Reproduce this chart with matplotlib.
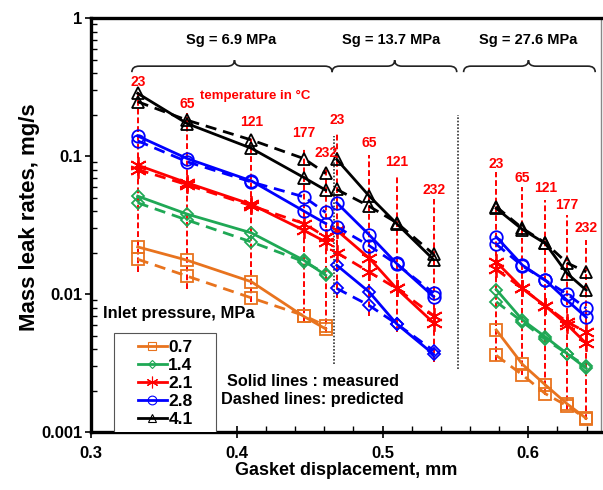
import matplotlib
matplotlib.use("Agg")
import matplotlib.pyplot as plt
from matplotlib.lines import Line2D
from matplotlib.path import Path
from matplotlib.patches import PathPatch, Rectangle
from matplotlib.transforms import blended_transform_factory
from matplotlib.ticker import MultipleLocator, LogLocator, NullFormatter, FixedLocator

plt.rcParams['font.family'] = ['Liberation Sans', 'DejaVu Sans']
plt.rcParams['font.weight'] = 'bold'

# gasket displacement (mm) for each seating stress group
g1_x = [0.332, 0.366, 0.410, 0.446, 0.461]   # Sg = 6.9 MPa
g2_x = [0.4686, 0.4907, 0.5096, 0.535]       # Sg = 13.7 MPa
g3_x = [0.578, 0.596, 0.6117, 0.6267, 0.6397]  # Sg = 27.6 MPa

g1_temps = ["23", "65", "121", "177", "232"]
g2_temps = ["23", "65", "121", "232"]
g3_temps = ["23", "65", "121", "177", "232"]

pressures = ["0.7", "1.4", "2.1", "2.8", "4.1"]

# mass leak rates, mg/s  (meas = measured, pred = predicted)
g1_07_meas = [0.0220, 0.0176, 0.0123, 0.0069, 0.0056]
g1_07_pred = [0.0179, 0.0135, 0.0094, 0.0070, 0.0059]
g1_14_meas = [0.0513, 0.0380, 0.0278, 0.0176, 0.0137]
g1_14_pred = [0.0459, 0.0344, 0.0239, 0.0172, 0.0141]
g1_21_meas = [0.086, 0.064, 0.0447, 0.029, 0.0239]
g1_21_pred = [0.080, 0.062, 0.0437, 0.0325, 0.026]
g1_28_meas = [0.140, 0.096, 0.0662, 0.040, 0.0325]
g1_28_pred = [0.129, 0.091, 0.065, 0.0507, 0.0391]
g1_41_meas = [0.285, 0.172, 0.114, 0.070, 0.0567]
g1_41_pred = [0.248, 0.182, 0.131, 0.096, 0.075]

g2_14_meas = [0.0162, 0.0104, 0.0061, 0.00367]
g2_14_pred = [0.0110, 0.0083, 0.0061, 0.0039]
g2_21_meas = [0.029, 0.0183, 0.0110, 0.0062]
g2_21_pred = [0.020, 0.0145, 0.0110, 0.0070]
g2_28_meas = [0.0459, 0.027, 0.0167, 0.0096]
g2_28_pred = [0.0307, 0.0225, 0.0165, 0.0102]
g2_41_meas = [0.0946, 0.0516, 0.0325, 0.0178]
g2_41_pred = [0.0574, 0.0434, 0.0330, 0.0195]

g3_07_meas = [0.0055, 0.0031, 0.0022, 0.0016, 0.00126]
g3_07_pred = [0.0036, 0.0026, 0.0019, 0.00155, 0.00125]
g3_14_meas = [0.0108, 0.0065, 0.0049, 0.0037, 0.0029]
g3_14_pred = [0.0088, 0.0063, 0.0047, 0.0037, 0.0030]
g3_21_meas = [0.0171, 0.0110, 0.0082, 0.0060, 0.0044]
g3_21_pred = [0.0151, 0.0110, 0.0082, 0.0063, 0.0053]
g3_28_meas = [0.026, 0.0162, 0.0126, 0.0090, 0.0068]
g3_28_pred = [0.023, 0.0160, 0.0126, 0.0100, 0.0079]
g3_41_meas = [0.0418, 0.0294, 0.0233, 0.0141, 0.0107]
g3_41_pred = [0.0430, 0.0300, 0.0235, 0.0168, 0.0145]

# temperature marker lines: label height, line top, line bottom
g1_lab_y = [0.344, 0.238, 0.176, 0.146, 0.105]
g1_top = [0.291, 0.205, 0.138, 0.114, 0.0836]
g1_bot = [0.0144, 0.0109, 0.0088, 0.0063, 0.0052]
g2_lab_y = [0.182, 0.125, 0.091, 0.0567]
g2_top = [0.146, 0.1017, 0.0728, 0.0486]
g2_bot = [0.0094, 0.0070, 0.0053, 0.0032]
g3_lab_y = [0.0875, 0.069, 0.0586, 0.044, 0.030]
g3_top = [0.077, 0.060, 0.048, 0.0373, 0.0246]
g3_bot = [0.0033, 0.0026, 0.00185, 0.00144, 0.00122]

ORANGE = "#E8731E"
GREEN = "#1FA855"
RED = "#FF0000"
BLUE = "#0000FF"
BLACK = "#000000"

styles = {
    "0.7": dict(color=ORANGE, marker="s", ms=8),
    "1.4": dict(color=GREEN, marker="D", ms=6),
    "2.1": dict(color=RED, marker=(6, 2, 0), ms=12),
    "2.8": dict(color=BLUE, marker="o", ms=9),
    "4.1": dict(color=BLACK, marker="^", ms=9),
}

fig = plt.figure(figsize=(6.03, 4.9), dpi=100)
ax = fig.add_axes([0.151, 0.118, 0.846, 0.845])
ax.set_yscale("log")
ax.set_xlim(0.3, 0.65)
ax.set_ylim(0.001, 1)


def plot_pair(x, meas, pred, key, color=None):
    st = dict(styles[key])
    if color is not None:
        st["color"] = color
    c = st.pop("color")
    common = dict(color=c, mfc="none", mec=c, mew=1.3, zorder=3)
    ax.plot(x, meas, "-", lw=2.0, **st, **common)
    ax.plot(x, pred, "--", lw=2.0, dashes=(4, 2.5), **st, **common)


# temperature lines go underneath the data
for xs, temps, lab_y, tops, bots in [(g1_x, g1_temps, g1_lab_y, g1_top, g1_bot),
                                      (g2_x, g2_temps, g2_lab_y, g2_top, g2_bot),
                                      (g3_x, g3_temps, g3_lab_y, g3_top, g3_bot)]:
    for xv, t, ly, top, bot in zip(xs, temps, lab_y, tops, bots):
        ax.plot([xv, xv], [bot, top], color=RED, lw=1.4, ls=(0, (3, 1.5)), zorder=2)
        ax.text(xv, ly, t, color=RED, fontsize=10, fontweight="bold",
                ha="center", va="center", zorder=4)

plot_pair(g1_x, g1_07_meas, g1_07_pred, "0.7")
plot_pair(g1_x, g1_14_meas, g1_14_pred, "1.4")
plot_pair(g1_x, g1_21_meas, g1_21_pred, "2.1")
plot_pair(g1_x, g1_28_meas, g1_28_pred, "2.8")
plot_pair(g1_x, g1_41_meas, g1_41_pred, "4.1")

plot_pair(g2_x, g2_14_meas, g2_14_pred, "1.4", color=BLUE)
plot_pair(g2_x, g2_21_meas, g2_21_pred, "2.1")
plot_pair(g2_x, g2_28_meas, g2_28_pred, "2.8")
plot_pair(g2_x, g2_41_meas, g2_41_pred, "4.1")

plot_pair(g3_x, g3_07_meas, g3_07_pred, "0.7")
plot_pair(g3_x, g3_14_meas, g3_14_pred, "1.4")
plot_pair(g3_x, g3_21_meas, g3_21_pred, "2.1")
plot_pair(g3_x, g3_28_meas, g3_28_pred, "2.8")
plot_pair(g3_x, g3_41_meas, g3_41_pred, "4.1")

# dotted separators between seating stress groups
ax.plot([0.4668, 0.4668], [0.0031, 0.14], color="#333333", lw=1.2, ls=(0, (1, 1)), zorder=2)
ax.plot([0.5515, 0.5515], [0.00286, 0.198], color="#333333", lw=1.2, ls=(0, (1, 1)), zorder=2)


def draw_brace(x0, x1, xm, y, h, dx):
    trans = blended_transform_factory(ax.transData, ax.transAxes)
    verts = [(x0, y - h), (x0, y), (x0 + dx, y), (xm - dx, y), (xm, y), (xm, y + h),
             (xm, y), (xm + dx, y), (x1 - dx, y), (x1, y), (x1, y - h)]
    codes = [Path.MOVETO, Path.CURVE3, Path.CURVE3, Path.LINETO, Path.CURVE3, Path.CURVE3,
             Path.CURVE3, Path.CURVE3, Path.LINETO, Path.CURVE3, Path.CURVE3]
    ax.add_patch(PathPatch(Path(verts, codes), transform=trans, fc="none",
                           ec="#222222", lw=1.2, clip_on=False))


draw_brace(0.328, 0.4654, 0.3984, 0.884, 0.0145, 0.005)
draw_brace(0.4654, 0.5509, 0.5083, 0.884, 0.0145, 0.005)
draw_brace(0.5556, 0.6459, 0.6001, 0.884, 0.0145, 0.005)

trans = blended_transform_factory(ax.transData, ax.transAxes)
ax.text(0.3964, 0.947, "Sg = 6.9 MPa", transform=trans, ha="center", va="center",
        fontsize=10.5, fontweight="bold")
ax.text(0.5057, 0.947, "Sg = 13.7 MPa", transform=trans, ha="center", va="center",
        fontsize=10.5, fontweight="bold")
ax.text(0.6001, 0.947, "Sg = 27.6 MPa", transform=trans, ha="center", va="center",
        fontsize=10.5, fontweight="bold")

ax.text(0.3745, 0.272, "temperature in \u00b0C", color=RED, fontsize=9.5,
        fontweight="bold", ha="left", va="center")
ax.text(0.3082, 0.0073, "Inlet pressure, MPa", fontsize=11.9, fontweight="bold",
        ha="left", va="center")
ax.text(0.393, 0.00234, "Solid lines : measured", fontsize=11.7, fontweight="bold",
        ha="left", va="center")
ax.text(0.3889, 0.00173, "Dashed lines: predicted", fontsize=11.7, fontweight="bold",
        ha="left", va="center")

# legend: entries without the default frame, boxed by a plain rectangle
handles = []
for p in pressures:
    st = styles[p]
    handles.append(Line2D([], [], color=st["color"], marker=st["marker"], ms=st["ms"] * 0.7,
                          mfc="none", mew=0.8, lw=2.0))
ax.legend(handles, pressures, loc="lower left", bbox_to_anchor=(0.092, 0.012),
          borderaxespad=0, borderpad=0, frameon=False, handlelength=1.65,
          handletextpad=0.1, labelspacing=0.17, prop=dict(size=12.5, weight="bold"))
ax.add_patch(Rectangle((0.045, -0.005), 0.2, 0.244, transform=ax.transAxes, fc="white",
                       ec="#555555", lw=0.8, zorder=4.5))

ax.set_xlabel("Gasket displacement, mm", fontsize=13, fontweight="bold", labelpad=1)
ax.set_ylabel("Mass leak rates, mg/s", fontsize=16, fontweight="bold")
ax.yaxis.set_label_coords(-0.1, 0.52)

ax.xaxis.set_major_locator(MultipleLocator(0.1))
ax.xaxis.set_minor_locator(MultipleLocator(0.02))
ax.yaxis.set_major_locator(FixedLocator([0.001, 0.01, 0.1, 1]))
ax.yaxis.set_minor_locator(LogLocator(base=10, subs=range(2, 10)))
ax.yaxis.set_minor_formatter(NullFormatter())
ax.set_xticks([0.3, 0.4, 0.5, 0.6])
ax.set_xticklabels(["0.3", "0.4", "0.5", "0.6"])
ax.set_yticklabels(["0.001", "0.01", "0.1", "1"])
ax.tick_params(axis="both", which="major", labelsize=12, width=1.2)
ax.tick_params(axis="x", which="major", direction="inout", length=8, pad=6)
ax.tick_params(axis="y", which="major", direction="out", length=4, pad=2)
ax.tick_params(axis="both", which="minor", direction="in", length=4, width=1.0)
for lab in ax.get_xticklabels() + ax.get_yticklabels():
    lab.set_fontweight("bold")

for side in ["left", "bottom", "top"]:
    ax.spines[side].set_linewidth(2.4)
ax.spines["right"].set_linewidth(1.0)
ax.spines["right"].set_color("#888888")

fig.savefig("out.png", dpi=100)
